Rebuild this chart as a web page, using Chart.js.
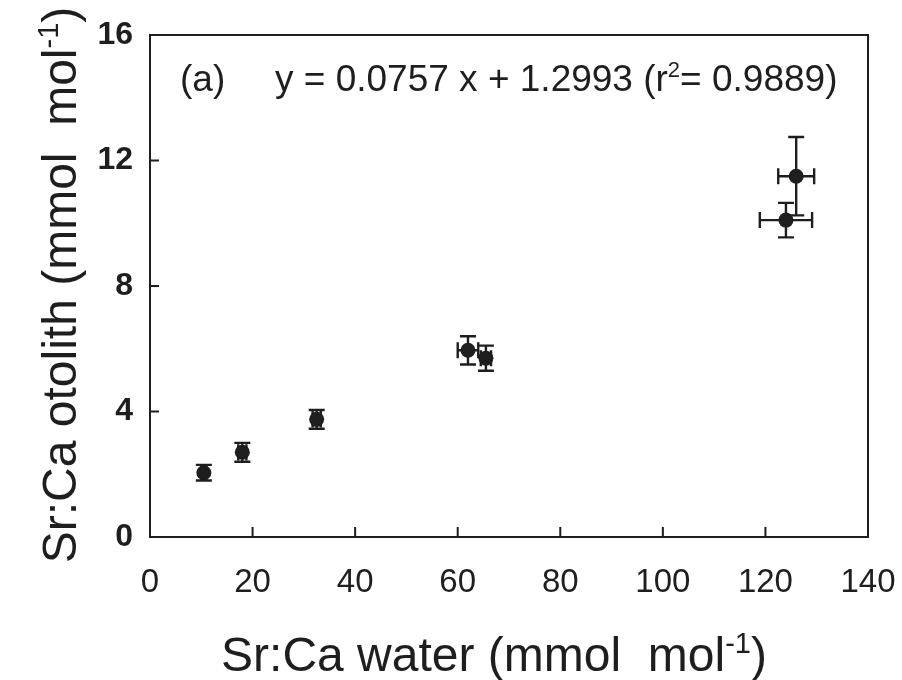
<!DOCTYPE html>
<html>
<head>
<meta charset="utf-8">
<script src="https://cdn.jsdelivr.net/npm/chart.js@4.4.1/dist/chart.umd.min.js"></script>
<style>
  html, body { margin: 0; padding: 0; background: #fff; }
  #wrap { width: 902px; height: 680px; }
</style>
</head>
<body>
<div id="wrap"><canvas id="chart" width="902" height="680"></canvas></div>
<script>
(function(){
  'use strict';

  // Sr:Ca in water vs otolith, means with SE bars
  var waterSrCa   = [10.5, 18.0, 32.5, 62.0, 65.5, 126.0, 124.0];
  var otolithSrCa = [2.05, 2.70, 3.75, 5.95, 5.70, 11.50, 10.10];
  var waterErr    = [0.5, 0.8, 0.8, 2.0, 1.0, 3.5, 5.1];
  var otolithErr  = [0.25, 0.30, 0.30, 0.45, 0.40, 1.25, 0.55];

  var xTicks = [0, 20, 40, 60, 80, 100, 120, 140];
  var yTicks = [0, 4, 8, 12, 16];

  var FONT = "'Liberation Sans', Arial, Helvetica, sans-serif";
  var INK = '#1e1e1e';

  var points = waterSrCa.map(function(x, i){ return {x: x, y: otolithSrCa[i]}; });

  // text with a raised small part, e.g. mol^-1
  function richWidth(ctx, parts, size){
    var w = 0;
    parts.forEach(function(p){
      ctx.font = (p.sup ? Math.round(size * 0.6) : size) + 'px ' + FONT;
      w += ctx.measureText(p.t).width;
    });
    return w;
  }
  function drawRich(ctx, parts, x, y, size){
    var cx = x;
    parts.forEach(function(p){
      ctx.font = (p.sup ? Math.round(size * 0.6) : size) + 'px ' + FONT;
      ctx.fillText(p.t, cx, p.sup ? y - size * 0.38 : y);
      cx += ctx.measureText(p.t).width;
    });
  }

  var framePlugin = {
    id: 'frameAndBars',
    beforeDatasetsDraw: function(chart){
      var ctx = chart.ctx, xs = chart.scales.x, ys = chart.scales.y;
      ctx.save();
      ctx.strokeStyle = INK;
      ctx.lineWidth = 2.4;
      var cap = 8;
      for (var i = 0; i < waterSrCa.length; i++){
        var px = xs.getPixelForValue(waterSrCa[i]);
        var py = ys.getPixelForValue(otolithSrCa[i]);
        var y1 = ys.getPixelForValue(otolithSrCa[i] + otolithErr[i]);
        var y2 = ys.getPixelForValue(otolithSrCa[i] - otolithErr[i]);
        var x1 = xs.getPixelForValue(waterSrCa[i] - waterErr[i]);
        var x2 = xs.getPixelForValue(waterSrCa[i] + waterErr[i]);
        ctx.beginPath();
        ctx.moveTo(px, y1); ctx.lineTo(px, y2);
        ctx.moveTo(px - cap, y1); ctx.lineTo(px + cap, y1);
        ctx.moveTo(px - cap, y2); ctx.lineTo(px + cap, y2);
        ctx.moveTo(x1, py); ctx.lineTo(x2, py);
        ctx.moveTo(x1, py - cap); ctx.lineTo(x1, py + cap);
        ctx.moveTo(x2, py - cap); ctx.lineTo(x2, py + cap);
        ctx.stroke();
      }
      ctx.restore();
    },
    afterDraw: function(chart){
      var ctx = chart.ctx, a = chart.chartArea;
      var xs = chart.scales.x, ys = chart.scales.y;
      ctx.save();
      // box
      ctx.strokeStyle = INK;
      ctx.lineWidth = 2;
      ctx.strokeRect(a.left, a.top, a.right - a.left, a.bottom - a.top);
      // inward ticks
      ctx.beginPath();
      xTicks.forEach(function(v){
        var px = xs.getPixelForValue(v);
        ctx.moveTo(px, a.bottom); ctx.lineTo(px, a.bottom - 10);
      });
      yTicks.forEach(function(v){
        var py = ys.getPixelForValue(v);
        ctx.moveTo(a.left, py); ctx.lineTo(a.left + 9, py);
      });
      ctx.stroke();

      ctx.fillStyle = INK;
      ctx.textBaseline = 'alphabetic';
      ctx.textAlign = 'left';

      // fit annotation
      ctx.font = '37px ' + FONT;
      ctx.fillText('(a)', 180, 91);
      drawRich(ctx, [
        {t: 'y = 0.0757 x + 1.2993 (r'}, {t: '2', sup: true}, {t: '= 0.9889)'}
      ], 275, 91, 37);

      // x axis title
      var xt = [{t: 'Sr:Ca water (mmol  mol'}, {t: '-1', sup: true}, {t: ')'}];
      var w = richWidth(ctx, xt, 48);
      drawRich(ctx, xt, 494 - w / 2, 671, 48);

      // y axis title
      var yt = [{t: 'Sr:Ca otolith (mmol  mol'}, {t: '-1', sup: true}, {t: ')'}];
      w = richWidth(ctx, yt, 48);
      ctx.translate(76, 285);
      ctx.rotate(-Math.PI / 2);
      drawRich(ctx, yt, -w / 2, 0, 48);
      ctx.restore();
    }
  };

  new Chart(document.getElementById('chart').getContext('2d'), {
    type: 'scatter',
    data: {
      datasets: [{
        data: points,
        pointRadius: 7.5,
        pointHoverRadius: 7.5,
        backgroundColor: INK,
        borderColor: INK,
        borderWidth: 0
      }]
    },
    options: {
      responsive: false,
      animation: false,
      layout: { padding: { top: 35, right: 34, left: 0, bottom: 0 } },
      plugins: { legend: { display: false }, tooltip: { enabled: false } },
      scales: {
        x: {
          type: 'linear', min: 0, max: 140,
          afterBuildTicks: function(s){ s.ticks = xTicks.map(function(v){ return {value: v}; }); },
          afterFit: function(s){ s.height = 143; s.paddingLeft = 0; s.paddingRight = 0; },
          grid: { display: false, drawTicks: false },
          border: { display: false },
          ticks: { color: INK, padding: 26, font: { family: FONT, size: 33 } }
        },
        y: {
          type: 'linear', min: 0, max: 16,
          afterBuildTicks: function(s){ s.ticks = yTicks.map(function(v){ return {value: v}; }); },
          afterFit: function(s){ s.width = 150; s.paddingTop = 0; s.paddingBottom = 0; },
          grid: { display: false, drawTicks: false },
          border: { display: false },
          ticks: { color: INK, padding: 17, font: { family: FONT, size: 32, weight: 'bold' } }
        }
      }
    },
    plugins: [framePlugin]
  });
})();
</script>
</body>
</html>
